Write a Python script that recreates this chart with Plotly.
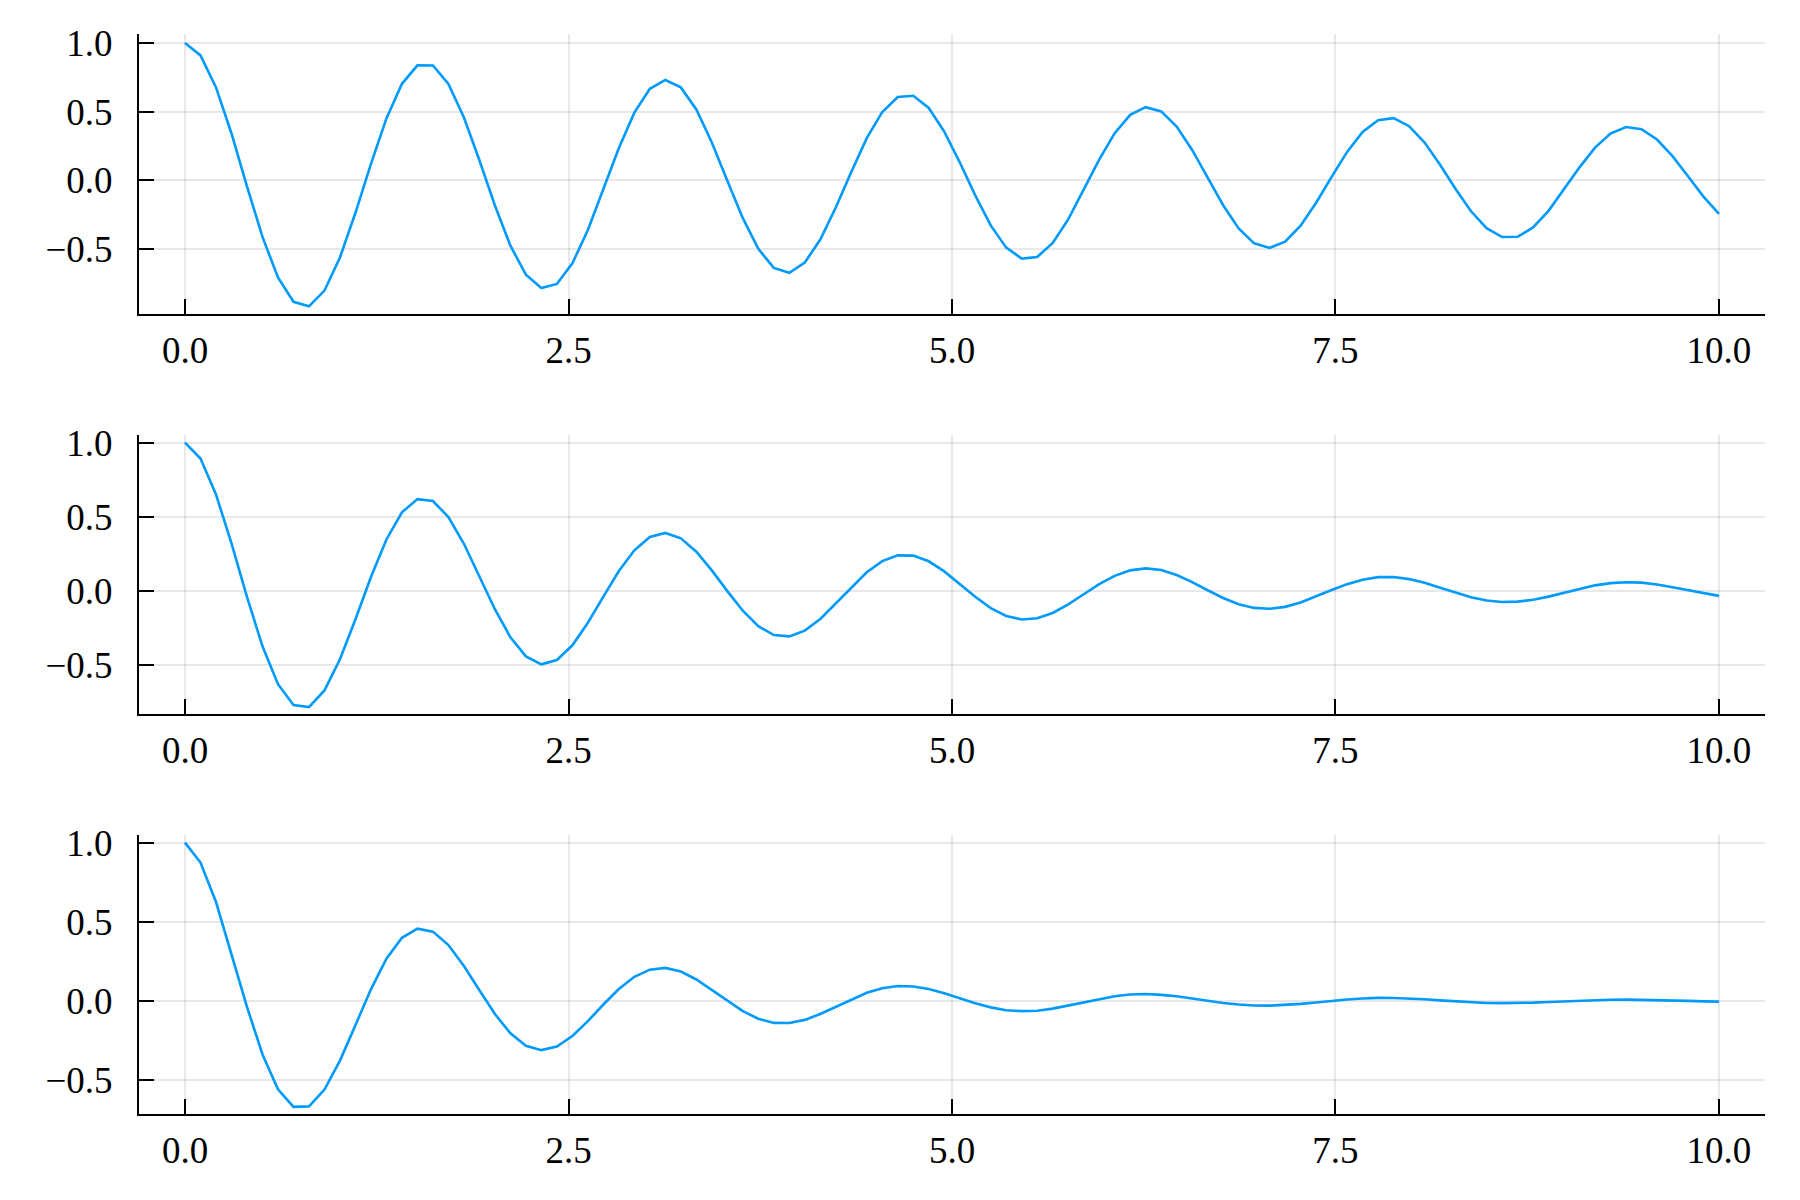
import plotly.graph_objects as go

x = [0.0, 0.1010, 0.2020, 0.3030, 0.4040, 0.5051, 0.6061, 0.7071, 0.8081, 0.9091,
     1.0101, 1.1111, 1.2121, 1.3131, 1.4141, 1.5152, 1.6162, 1.7172, 1.8182, 1.9192,
     2.0202, 2.1212, 2.2222, 2.3232, 2.4242, 2.5253, 2.6263, 2.7273, 2.8283, 2.9293,
     3.0303, 3.1313, 3.2323, 3.3333, 3.4343, 3.5354, 3.6364, 3.7374, 3.8384, 3.9394,
     4.0404, 4.1414, 4.2424, 4.3434, 4.4444, 4.5455, 4.6465, 4.7475, 4.8485, 4.9495,
     5.0505, 5.1515, 5.2525, 5.3535, 5.4545, 5.5556, 5.6566, 5.7576, 5.8586, 5.9596,
     6.0606, 6.1616, 6.2626, 6.3636, 6.4646, 6.5657, 6.6667, 6.7677, 6.8687, 6.9697,
     7.0707, 7.1717, 7.2727, 7.3737, 7.4747, 7.5758, 7.6768, 7.7778, 7.8788, 7.9798,
     8.0808, 8.1818, 8.2828, 8.3838, 8.4848, 8.5859, 8.6869, 8.7879, 8.8889, 8.9899,
     9.0909, 9.1919, 9.2929, 9.3939, 9.4949, 9.5960, 9.6970, 9.7980, 9.8990, 10.0]

y_top = [1.000, 0.910, 0.677, 0.341, -0.044, -0.413, -0.709, -0.886, -0.919, -0.804,
         -0.563, -0.237, 0.120, 0.451, 0.703, 0.838, 0.837, 0.702, 0.458, 0.146,
         -0.184, -0.477, -0.688, -0.786, -0.756, -0.606, -0.362, -0.066, 0.235, 0.493,
         0.667, 0.731, 0.677, 0.516, 0.276, -0.003, -0.276, -0.500, -0.639, -0.674,
         -0.600, -0.432, -0.199, 0.061, 0.307, 0.498, 0.607, 0.616, 0.527, 0.355,
         0.131, -0.110, -0.329, -0.491, -0.571, -0.559, -0.457, -0.285, -0.071, 0.150,
         0.343, 0.477, 0.533, 0.502, 0.392, 0.221, 0.019, -0.182, -0.351, -0.460,
         -0.493, -0.447, -0.331, -0.164, 0.025, 0.207, 0.352, 0.438, 0.453, 0.394,
         0.275, 0.113, -0.063, -0.226, -0.349, -0.414, -0.412, -0.344, -0.223, -0.068,
         0.094, 0.238, 0.341, 0.388, 0.372, 0.297, 0.176, 0.029, -0.119, -0.245]

y_mid = [1.000, 0.892, 0.650, 0.321, -0.040, -0.373, -0.628, -0.769, -0.782, -0.670,
         -0.460, -0.190, 0.094, 0.347, 0.530, 0.619, 0.606, 0.498, 0.318, 0.099,
         -0.123, -0.312, -0.441, -0.494, -0.465, -0.366, -0.214, -0.038, 0.134, 0.274,
         0.364, 0.391, 0.355, 0.265, 0.139, -0.001, -0.133, -0.237, -0.297, -0.306,
         -0.267, -0.189, -0.085, 0.026, 0.126, 0.201, 0.240, 0.238, 0.200, 0.132,
         0.048, -0.039, -0.115, -0.168, -0.192, -0.184, -0.148, -0.090, -0.022, 0.046,
         0.102, 0.139, 0.152, 0.141, 0.108, 0.060, 0.005, -0.047, -0.089, -0.114,
         -0.120, -0.107, -0.077, -0.038, 0.006, 0.046, 0.076, 0.093, 0.094, 0.080,
         0.055, 0.022, -0.012, -0.042, -0.064, -0.074, -0.072, -0.059, -0.038, -0.011,
         0.015, 0.038, 0.053, 0.059, 0.056, 0.044, 0.025, 0.004, -0.016, -0.033]

y_bot = [1.000, 0.874, 0.625, 0.302, -0.037, -0.337, -0.557, -0.668, -0.665, -0.559,
         -0.376, -0.152, 0.074, 0.267, 0.399, 0.457, 0.438, 0.353, 0.221, 0.068,
         -0.082, -0.204, -0.283, -0.310, -0.287, -0.221, -0.127, -0.022, 0.076, 0.153,
         0.198, 0.209, 0.186, 0.136, 0.070, -0.001, -0.064, -0.112, -0.138, -0.139,
         -0.119, -0.082, -0.036, 0.011, 0.052, 0.081, 0.095, 0.092, 0.076, 0.049,
         0.017, -0.014, -0.040, -0.058, -0.064, -0.061, -0.048, -0.028, -0.007, 0.014,
         0.030, 0.041, 0.044, 0.039, 0.030, 0.016, 0.001, -0.012, -0.022, -0.028,
         -0.029, -0.025, -0.018, -0.009, 0.001, 0.010, 0.016, 0.020, 0.019, 0.016,
         0.011, 0.004, -0.002, -0.008, -0.012, -0.013, -0.013, -0.010, -0.006, -0.002,
         0.002, 0.006, 0.008, 0.009, 0.008, 0.006, 0.004, 0.001, -0.002, -0.004]

x_ticks = [0.0, 2.5, 5.0, 7.5, 10.0]
y_ticks = [-0.5, 0.0, 0.5, 1.0]

series = [y_top, y_mid, y_bot]
y_ranges = [[-0.977, 1.064], [-0.831, 1.051], [-0.715, 1.048]]
# pixel positions (top, bottom) of each panel in the 1200px tall canvas
panel_px = [(34.3, 314.3), (435.0, 714.3), (835.0, 1114.3)]
W, H = 1800, 1200
x_dom = [139 / W, 1765 / W]

FONT = "Liberation Serif, DejaVu Serif, serif"
LINE = "#009AFA"

fig = go.Figure()
layout = dict(
    template="none",
    width=W, height=H, autosize=False,
    margin=dict(l=0, r=0, t=0, b=0, pad=0),
    paper_bgcolor="white", plot_bgcolor="white",
    showlegend=False,
    font=dict(family=FONT, size=37, color="black"),
)

for k, ys in enumerate(series):
    n = "" if k == 0 else str(k + 1)
    fig.add_trace(go.Scatter(x=x, y=ys, mode="lines",
                             line=dict(color=LINE, width=2.6),
                             xaxis="x" + n, yaxis="y" + n,
                             hoverinfo="skip"))
    top, bot = panel_px[k]
    common = dict(showline=True, linecolor="black", linewidth=2.2,
                  ticks="inside", ticklen=15, tickwidth=2, tickcolor="black",
                  showgrid=True, gridcolor="rgba(0,0,0,0.09)", gridwidth=1.5,
                  zeroline=False, mirror=False, automargin=False,
                  tickfont=dict(family=FONT, size=37, color="black"))
    layout["xaxis" + n] = dict(
        domain=x_dom, range=[-0.3, 10.3], tickvals=x_ticks,
        tickformat=".1f", anchor="y" + n, ticklabelstandoff=2, **common)
    layout["yaxis" + n] = dict(
        domain=[1 - bot / H, 1 - top / H], range=y_ranges[k],
        tickvals=y_ticks, tickformat=".1f", anchor="x" + n,
        ticklabelstandoff=17, **common)

fig.update_layout(**layout)
fig.write_html("out.html",
               config={"displayModeBar": False},
               post_script="document.body.style.margin='0';document.body.style.overflow='hidden';")
